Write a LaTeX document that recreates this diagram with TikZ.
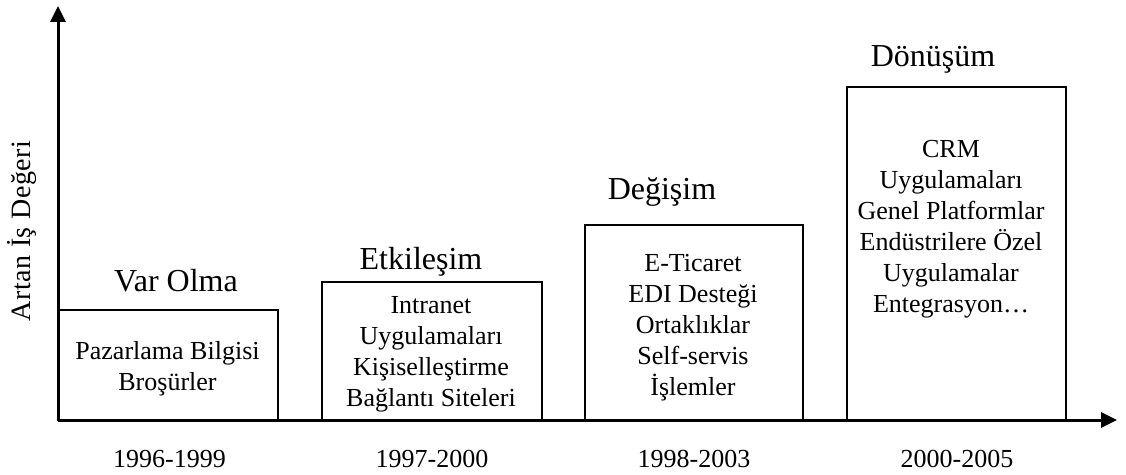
\documentclass[tikz,border=0pt]{standalone}
\usepackage{fontspec}
\setmainfont{Liberation Serif}
\usetikzlibrary{arrows.meta}
\begin{document}
\begin{tikzpicture}[x=1pt,y=1pt,
  axis/.style={line width=3pt,-{Triangle[length=16pt,width=15pt]}},
  stagebox/.style={draw,line width=2.4pt,inner sep=0pt},
  body/.style={align=center,font=\fontsize{26}{31}\selectfont,inner sep=0pt},
  title/.style={font=\fontsize{32}{36}\selectfont,inner sep=0pt,anchor=base},
  year/.style={font=\fontsize{26}{30}\selectfont,inner sep=0pt,anchor=base}]
\useasboundingbox (0,0) rectangle (1126,474);
% axes
\coordinate (O) at (58,54);
\coordinate (ytop) at (58,468);
\coordinate (xend) at (1117,54);
% stage boxes, all standing on the time axis
\node[stagebox,minimum width=220pt,minimum height=110pt] (b1) at (168,109) {};
\node[stagebox,minimum width=220pt,minimum height=138pt] (b2) at (432,123) {};
\node[stagebox,minimum width=218pt,minimum height=195pt] (b3) at (694,151.5) {};
\node[stagebox,minimum width=219pt,minimum height=333pt] (b4) at (956.5,220.5) {};
\draw[axis] (O) -- (ytop);
\draw[axis] (O) -- (xend);
\node[rotate=90,inner sep=0pt,font=\fontsize{28}{32}\selectfont\addfontfeature{LetterSpace=2}] (ylab) at (22,243) {Artan İş Değeri};
% stage titles
\node[title] (t1) at (176,182) {Var Olma};
\node[title] (t2) at (421,204) {Etkileşim};
\node[title] (t3) at (662,274) {Değişim};
\node[title] (t4) at (933,407) {Dönüşüm};
% stage contents
\node[body] (c1) at (167.5,105.5) {Pazarlama Bilgisi\\Broşürler};
\node[body] (c2) at (431,119.5) {Intranet\\Uygulamaları\\Kişiselleştirme\\Bağlantı Siteleri};
\node[body] (c3) at (693,146.5) {E-Ticaret\\EDI Desteği\\Ortaklıklar\\Self-servis\\İşlemler};
\node[body] (c4) at (951,245) {CRM\\Uygulamaları\\Genel Platformlar\\Endüstrilere Özel\\Uygulamalar\\Entegrasyon…};
% periods
\node[year] (y1) at (169.5,7) {1996-1999};
\node[year] (y2) at (432,7) {1997-2000};
\node[year] (y3) at (694,7) {1998-2003};
\node[year] (y4) at (957,7) {2000-2005};
\end{tikzpicture}
\end{document}
